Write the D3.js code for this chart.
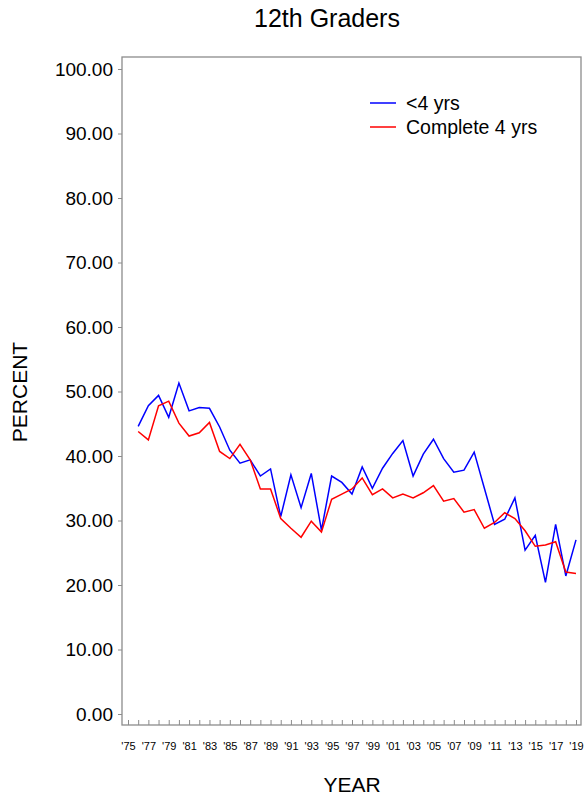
<!DOCTYPE html>
<html>
<head>
<meta charset="utf-8">
<script src="https://cdn.jsdelivr.net/npm/d3@7"></script>
<style>
  html, body { margin: 0; padding: 0; background: #fff; }
  svg { display: block; font-family: "Liberation Sans", Arial, sans-serif; }
</style>
</head>
<body>
<div id="chart"></div>
<script>
const years = d3.range(1976, 2020);
const lessThan4 = [44.6, 47.8, 49.4, 46.0, 51.3, 47.0, 47.5, 47.4, 44.5, 40.9,
  38.9, 39.4, 36.9, 38.0, 30.6, 37.1, 32.0, 37.3, 28.5, 36.9,
  35.9, 34.1, 38.3, 35.0, 38.1, 40.4, 42.4, 36.9, 40.3, 42.6,
  39.6, 37.5, 37.8, 40.6, 35.0, 29.4, 30.2, 33.5, 25.4, 27.7,
  20.4, 29.4, 21.4, 27.0];
const complete4 = [43.8, 42.5, 47.8, 48.5, 45.1, 43.1, 43.6, 45.2, 40.7, 39.6,
  41.8, 39.4, 34.9, 34.9, 30.3, 28.8, 27.4, 29.9, 28.2, 33.3,
  34.1, 34.9, 36.6, 34.0, 34.9, 33.5, 34.1, 33.5, 34.3, 35.4,
  33.0, 33.4, 31.3, 31.7, 28.8, 29.7, 31.2, 30.3, 28.4, 26.0,
  26.2, 26.7, 22.0, 21.8];
const yTicks = [0, 10, 20, 30, 40, 50, 60, 70, 80, 90, 100];
const xTickYears = d3.range(1975, 2020);
const xLabelYears = d3.range(1975, 2020, 2);
const seriesNames = ["<4 yrs", "Complete 4 yrs"];
const seriesColors = ["#0000ff", "#ff0000"];

const W = 586, H = 796;
const frame = { left: 122, right: 581, top: 57, bottom: 725 };

const svg = d3.select("#chart").append("svg").attr("width", W).attr("height", H);

const x = d3.scaleLinear().domain([1975, 2019]).range([128, 576]);
const y = d3.scaleLinear().domain([0, 100]).range([714, 69]);

// frame
svg.append("rect")
  .attr("x", frame.left).attr("y", frame.top)
  .attr("width", frame.right - frame.left).attr("height", frame.bottom - frame.top)
  .attr("fill", "none").attr("stroke", "#8c8c8c").attr("stroke-width", 1.3);

// y axis
const yAxis = d3.axisLeft(y).tickValues(yTicks).tickSize(4).tickPadding(5)
  .tickFormat(d => d.toFixed(2));
const gy = svg.append("g").attr("transform", `translate(${frame.left},0)`).call(yAxis);
gy.select(".domain").remove();
gy.selectAll(".tick line").attr("stroke", "#8c8c8c");
gy.selectAll(".tick text").attr("fill", "#000").style("font-size", "19px")
  .style("font-family", "'Liberation Sans', Arial, sans-serif");

// x axis: ticks inward
const xAxis = d3.axisTop(x).tickValues(xTickYears).tickSize(5).tickFormat("");
const gx = svg.append("g").attr("transform", `translate(0,${frame.bottom})`).call(xAxis);
gx.select(".domain").remove();
gx.selectAll(".tick line").attr("stroke", "#8c8c8c");

const xLab = d3.axisBottom(x).tickValues(xLabelYears).tickSize(0).tickPadding(17)
  .tickFormat(d => "'" + String(d).slice(2));
const gxl = svg.append("g").attr("transform", `translate(0,${frame.bottom})`).call(xLab);
gxl.select(".domain").remove();
gxl.selectAll(".tick text").attr("fill", "#000").style("font-size", "11px")
  .style("font-family", "'Liberation Sans', Arial, sans-serif");

// lines
const line = d3.line().x((d, i) => x(years[i])).y(d => y(d));
[lessThan4, complete4].forEach((s, k) => {
  svg.append("path").datum(s).attr("d", line)
    .attr("fill", "none").attr("stroke", seriesColors[k]).attr("stroke-width", 1.5)
    .attr("stroke-linejoin", "miter");
});

// legend
seriesNames.forEach((n, k) => {
  const ly = 103 + k * 24;
  svg.append("line").attr("x1", 370).attr("x2", 396).attr("y1", ly).attr("y2", ly)
    .attr("stroke", seriesColors[k]).attr("stroke-width", 1.5);
  svg.append("text").attr("x", 406).attr("y", ly + 7).text(n)
    .style("font-size", "19.5px").attr("fill", "#000");
});

// titles
svg.append("text").attr("x", 327).attr("y", 27).attr("text-anchor", "middle")
  .style("font-size", "25px").text("12th Graders");
svg.append("text").attr("x", 352).attr("y", 792).attr("text-anchor", "middle")
  .style("font-size", "21px").text("YEAR");
svg.append("text").attr("transform", "translate(27,392) rotate(-90)")
  .attr("text-anchor", "middle").style("font-size", "21px").text("PERCENT");
</script>
</body>
</html>
